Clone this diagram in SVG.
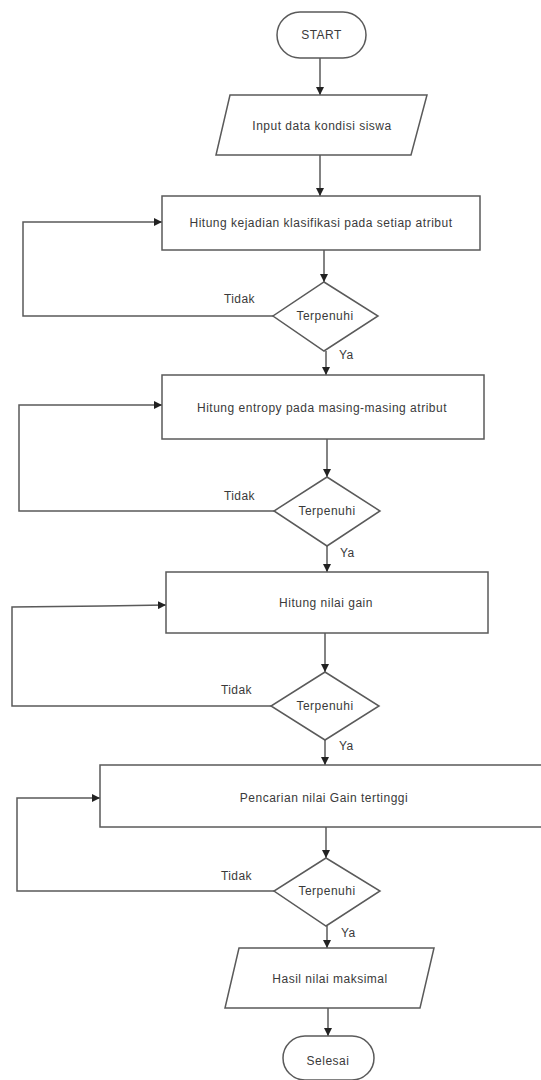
<svg xmlns="http://www.w3.org/2000/svg" width="541" height="1080" viewBox="0 0 541 1080">
  <style>
    .shape { fill: #ffffff; stroke: #5a5a5a; stroke-width: 1.5; }
    .line { fill: none; stroke: #5a5a5a; stroke-width: 1.5; }
    .label { font-family: "Liberation Sans", Arial, sans-serif; font-size: 12px; letter-spacing: 0.5px; fill: #3a3a3a; text-anchor: middle; dominant-baseline: central; }
    .edge-label { font-family: "Liberation Sans", Arial, sans-serif; font-size: 12px; letter-spacing: 0.4px; fill: #3a3a3a; }
  </style>
  <defs>
    <marker id="arrow" viewBox="0 0 10 10" refX="10" refY="5" markerWidth="8" markerHeight="8" markerUnits="userSpaceOnUse" orient="auto">
      <path d="M0,0 L10,5 L0,10 z" fill="#222"/>
    </marker>
  </defs>
  <rect width="541" height="1080" fill="#ffffff"/>

  <!-- connectors -->
  <g id="connectors">
    <line class="line" x1="320" y1="58" x2="320" y2="95" marker-end="url(#arrow)"/>
    <line class="line" x1="320" y1="155" x2="320" y2="196" marker-end="url(#arrow)"/>
    <line class="line" x1="324" y1="250" x2="324" y2="282" marker-end="url(#arrow)"/>
    <line class="line" x1="326" y1="351" x2="326" y2="375" marker-end="url(#arrow)"/>
    <line class="line" x1="327" y1="439" x2="327" y2="477" marker-end="url(#arrow)"/>
    <line class="line" x1="327" y1="546" x2="327" y2="572" marker-end="url(#arrow)"/>
    <line class="line" x1="325" y1="633" x2="325" y2="672" marker-end="url(#arrow)"/>
    <line class="line" x1="325" y1="740" x2="325" y2="765" marker-end="url(#arrow)"/>
    <line class="line" x1="326" y1="827" x2="326" y2="858" marker-end="url(#arrow)"/>
    <line class="line" x1="327" y1="926" x2="327" y2="948" marker-end="url(#arrow)"/>
    <line class="line" x1="328" y1="1008" x2="328" y2="1036" marker-end="url(#arrow)"/>

    <!-- "Tidak" loops back to the step above each decision -->
    <polyline class="line" points="273,316 23,316 23,222 162,222" marker-end="url(#arrow)"/>
    <polyline class="line" points="274,511 19,511 19,405 162,405" marker-end="url(#arrow)"/>
    <polyline class="line" points="271,706 12,706 12,607 103,606 166,605" marker-end="url(#arrow)"/>
    <polyline class="line" points="274,891 17,891 17,798 100,798" marker-end="url(#arrow)"/>

    <text class="edge-label" x="224" y="303">Tidak</text>
    <text class="edge-label" x="339" y="359">Ya</text>
    <text class="edge-label" x="224" y="500">Tidak</text>
    <text class="edge-label" x="340" y="557">Ya</text>
    <text class="edge-label" x="221" y="694">Tidak</text>
    <text class="edge-label" x="339" y="750">Ya</text>
    <text class="edge-label" x="221" y="880">Tidak</text>
    <text class="edge-label" x="341" y="937">Ya</text>
  </g>

  <g id="start">
    <rect class="shape" x="277" y="12" width="89" height="46" rx="23" ry="23"/>
    <text class="label" x="321.5" y="35">START</text>
  </g>

  <g id="input-data">
    <polygon class="shape" points="230,95 427,95 411,155 216,155"/>
    <text class="label" x="322" y="126">Input data kondisi siswa</text>
  </g>

  <g id="hitung-kejadian">
    <rect class="shape" x="162" y="196" width="318" height="54"/>
    <text class="label" x="321" y="223">Hitung kejadian klasifikasi pada setiap atribut</text>
  </g>

  <g id="cek-1">
    <polygon class="shape" points="324,282 378,316 324,351 273,316"/>
    <text class="label" x="325" y="316">Terpenuhi</text>
  </g>

  <g id="hitung-entropy">
    <rect class="shape" x="162" y="375" width="322" height="64"/>
    <text class="label" x="322" y="408">Hitung entropy pada masing-masing atribut</text>
  </g>

  <g id="cek-2">
    <polygon class="shape" points="327,477 380,511 327,546 274,511"/>
    <text class="label" x="327" y="511">Terpenuhi</text>
  </g>

  <g id="hitung-gain">
    <rect class="shape" x="166" y="572" width="322" height="61"/>
    <text class="label" x="326" y="603">Hitung nilai gain</text>
  </g>

  <g id="cek-3">
    <polygon class="shape" points="325,672 379,706 325,740 271,706"/>
    <text class="label" x="325" y="706">Terpenuhi</text>
  </g>

  <g id="pencarian-gain">
    <rect class="shape" x="100" y="765" width="460" height="62"/>
    <text class="label" x="324" y="798">Pencarian nilai Gain tertinggi</text>
  </g>

  <g id="cek-4">
    <polygon class="shape" points="326,858 380,891 326,926 274,891"/>
    <text class="label" x="327" y="891">Terpenuhi</text>
  </g>

  <g id="hasil">
    <polygon class="shape" points="239,948 434,948 420,1008 225,1008"/>
    <text class="label" x="330" y="979">Hasil nilai maksimal</text>
  </g>

  <g id="selesai">
    <rect class="shape" x="283" y="1036" width="91" height="44" rx="22" ry="22"/>
    <text class="label" x="328" y="1061">Selesai</text>
  </g>
</svg>
